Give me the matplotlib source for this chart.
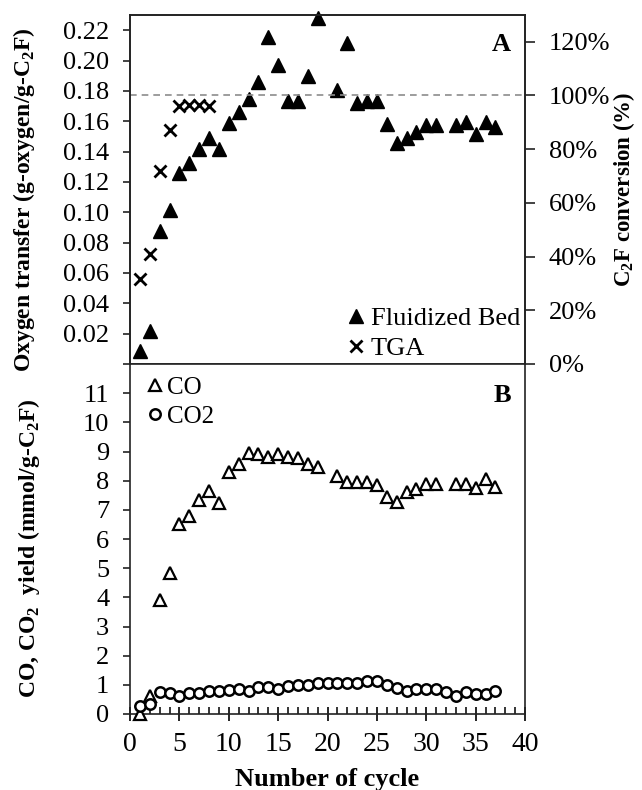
import matplotlib.pyplot as plt
import numpy as np
from matplotlib.ticker import FuncFormatter, MultipleLocator

plt.rcParams["font.family"] = ["Liberation Serif", "DejaVu Serif"]
plt.rcParams["mathtext.fontset"] = "custom"
plt.rcParams["mathtext.rm"] = "Liberation Serif"
plt.rcParams["mathtext.bf"] = "Liberation Serif:bold"

# Panel A: oxygen transfer (g-oxygen/g-C2F)
fb_cycle = [1, 2, 3, 4, 5, 6, 7, 8, 9, 10, 11, 12, 13, 14, 15, 16, 17, 18, 19,
            21, 22, 23, 24, 25, 26, 27, 28, 29, 30, 31, 33, 34, 35, 36, 37]
fb_oxygen = [0.0085, 0.0217, 0.0878, 0.1017, 0.1259, 0.1325, 0.1418, 0.1488, 0.1418,
             0.1588, 0.1660, 0.1748, 0.1858, 0.2156, 0.1968, 0.1730, 0.1730, 0.1898,
             0.2281, 0.1803, 0.2116, 0.1722, 0.1730, 0.1730, 0.1583, 0.1457, 0.1488,
             0.1532, 0.1572, 0.1572, 0.1576, 0.1594, 0.1517, 0.1598, 0.1561]
tga_cycle = [1, 2, 3, 4, 5, 6, 7, 8]
tga_oxygen = [0.0558, 0.0724, 0.1274, 0.1545, 0.1702, 0.1708, 0.1708, 0.1702]
full_conversion = 0.177  # oxygen transfer at 100 % C2F conversion

# Panel B: CO / CO2 yield (mmol/g-C2F)
co_cycle = [1, 2, 3, 4, 5, 6, 7, 8, 9, 10, 11, 12, 13, 14, 15, 16, 17, 18, 19,
            21, 22, 23, 24, 25, 26, 27, 28, 29, 30, 31, 33, 34, 35, 36, 37]
co_yield = [0.0, 0.62, 3.9, 4.85, 6.5, 6.78, 7.34, 7.63, 7.24, 8.3, 8.57, 8.94, 8.9,
            8.8, 8.9, 8.8, 8.77, 8.57, 8.48, 8.17, 7.94, 7.94, 7.94, 7.85, 7.43, 7.26,
            7.6, 7.7, 7.9, 7.9, 7.9, 7.9, 7.76, 8.05, 7.8]
co2_cycle = list(range(1, 38))
co2_yield = [0.27, 0.34, 0.77, 0.73, 0.62, 0.73, 0.73, 0.79, 0.79, 0.82, 0.87, 0.80,
             0.92, 0.92, 0.85, 0.96, 1.0, 1.0, 1.05, 1.08, 1.08, 1.08, 1.08, 1.13,
             1.13, 1.0, 0.88, 0.79, 0.86, 0.86, 0.86, 0.77, 0.63, 0.77, 0.69, 0.69, 0.79]

fig = plt.figure(figsize=(6.42, 7.90), dpi=100)
ax1 = fig.add_axes([130 / 642, 426 / 790, 395 / 642, 349 / 790])
ax2 = fig.add_axes([130 / 642, 76 / 790, 395 / 642, 350 / 790])

tick_kw = dict(labelsize=19, width=1.2, color="#222222")

# ---- panel A
ax1.plot(fb_cycle, fb_oxygen, ls="none", marker="^", ms=9.5, color="black",
         label="Fluidized Bed", clip_on=False)
ax1.plot(tga_cycle, tga_oxygen, ls="none", marker="x", ms=9, mew=2, color="black",
         label="TGA")
ax1.axhline(full_conversion, color="#8c8c8c", ls=(0, (4, 3)), lw=1.2)
ax1.set_xlim(0, 40)
ax1.set_ylim(0, 0.23)
ax1.set_yticks(np.arange(0, 0.225, 0.02))
ax1.yaxis.set_major_formatter(FuncFormatter(lambda v, p: "" if v < 0.001 else f"{v:.2f}"))
ax1.tick_params(axis="y", direction="out", length=5, pad=10, **tick_kw)
ax1.tick_params(axis="x", bottom=False, labelbottom=False)
ax1.set_ylabel(r"Oxygen transfer (g-oxygen/g-C$_\mathbf{2}$F)", fontsize=17,
               fontweight="bold")
ax1.yaxis.set_label_coords(-0.235, 0.47)
ax1.text(0.965, 0.915, "A", transform=ax1.transAxes, ha="right", va="center",
         fontsize=19, fontweight="bold")
ax1.legend(loc="lower right", bbox_to_anchor=(1.015, -0.02), frameon=False,
           fontsize=19, handletextpad=0.15, borderaxespad=0.0, labelspacing=0.25,
           handlelength=0.8)

axr = ax1.twinx()
axr.set_ylim(0, 0.23 / full_conversion)
axr.set_yticks(np.arange(0, 1.21, 0.2))
axr.yaxis.set_major_formatter(FuncFormatter(lambda v, p: f"{v * 100:.0f}%"))
axr.tick_params(axis="y", direction="out", length=7, pad=10, **tick_kw)
axr.set_ylabel(r"C$_\mathbf{2}$F conversion (%)", fontsize=16.5, fontweight="bold",
               labelpad=1)

# ---- panel B
ax2.plot(co_cycle, co_yield, ls="none", marker="^", ms=8, mfc="white", mec="black",
         mew=1.6, label="CO", clip_on=False, zorder=3)
ax2.plot(co2_cycle, co2_yield, ls="none", marker="o", ms=7.5, mfc="white", mec="black",
         mew=1.8, label="CO2", zorder=3)
ax2.set_xlim(0, 40)
ax2.set_ylim(0, 12)
ax2.set_yticks(range(0, 12))
ax2.xaxis.set_major_locator(MultipleLocator(5))
ax2.xaxis.set_minor_locator(MultipleLocator(1))
ax2.tick_params(axis="y", direction="out", length=5, pad=10, **tick_kw)
ax2.tick_params(axis="x", which="major", direction="inout", length=10, pad=8,
                labelsize=20, width=1.2)
ax2.tick_params(axis="x", which="minor", direction="in", length=5, width=1.1)
ax2.set_ylabel(r"CO, CO$_\mathbf{2}$  yield (mmol/g-C$_\mathbf{2}$F)", fontsize=17,
               fontweight="bold")
ax2.yaxis.set_label_coords(-0.223, 0.473)
ax2.set_xlabel("Number of cycle", fontsize=19, fontweight="bold", labelpad=8)
ax2.text(0.965, 0.91, "B", transform=ax2.transAxes, ha="right", va="center",
         fontsize=19, fontweight="bold")
ax2.legend(loc="upper left", frameon=False, fontsize=18, handletextpad=0.0,
           borderaxespad=0.1, labelspacing=0.25, handlelength=1.0)

for ax in (ax1, axr, ax2):
    for s in ax.spines.values():
        s.set_linewidth(1.2)
        s.set_color("#222222")
ax2.spines["top"].set_visible(False)

fig.savefig("out.png", dpi=100)
